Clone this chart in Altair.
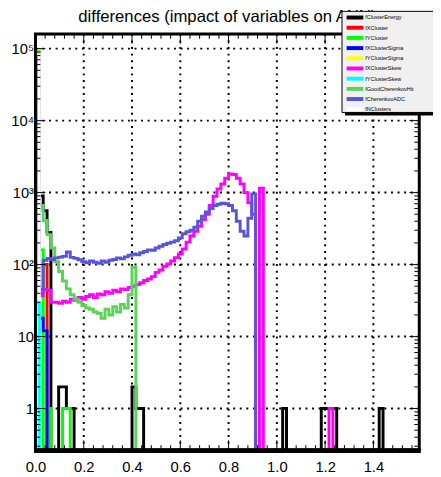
import altair as alt
import pandas as pd

# ---------------- axis / binning ----------------
BIN_WIDTH = 0.016
N_BINS = 100
X_DOMAIN = [0.0, 1.59]
Y_DOMAIN = [0.265, 1.6e5]
ZERO_FLOOR = 0.05          # empty bins are pushed below the axis (clipped)

TITLE = "differences (impact of variables on ANN)"

series_names = ["fClusterEnergy", "fXCluster", "fYCluster", "fXClusterSigma", "fYClusterSigma",
                "fXClusterSkew", "fYClusterSkew", "fGoodCherenkovHit", "fCherenkovADC", "fNClusters"]
series_colors = ["#000000", "#ff0000", "#00ff00", "#0000ff", "#ffff00",
                 "#ff00ff", "#00ffff", "#59d454", "#5954d9", "#ffffff"]
draw_order = ["fClusterEnergy", "fXCluster", "fYCluster", "fXClusterSigma", "fYClusterSigma",
              "fXClusterSkew", "fGoodCherenkovHit", "fCherenkovADC", "fNClusters", "fYClusterSkew"]

# ---------------- bin contents (bin 0 first) ----------------
cluster_energy = [86000, 900, 560, 280, 0, 0, 2, 2, 1, 1]
cluster_energy_spikes = {25: 2, 26: 1, 27: 1, 64: 1, 74: 1, 75: 1, 76: 1, 77: 1, 89: 1}
x_cluster = [88000, 40, 100]
y_cluster = [92000, 160, 0, 1, 0, 0, 0, 1, 1]
x_cluster_sigma = [88000, 18, 12]
y_cluster_sigma = [90000]
x_cluster_skew = [80000, 37, 45, 44, 30, 30, 29, 31, 30, 33,
                  32, 35, 33, 36, 38, 35, 39, 38, 42, 40,
                  44, 42, 46, 45, 48, 50, 53, 56, 60, 63,
                  68, 78, 84, 95, 102, 112, 125, 140, 165, 205,
                  250, 290, 340, 420, 500, 660, 890, 1120, 1320, 1580,
                  1820, 1780, 1580, 1320, 1000, 720, 500, 0, 1150]
x_cluster_skew_spikes = {76: 1}
y_cluster_skew = [29]
good_cherenkov_hit = [74000, 660, 410, 260, 170, 110, 80, 59, 46, 38,
                      33, 30, 27, 25, 24, 22, 21, 18, 24, 20,
                      26, 22, 28, 25, 38, 92]
cherenkov_adc = [84000, 45, 115, 122, 118, 124, 127, 130, 150, 126,
                 122, 117, 110, 106, 112, 108, 104, 112, 108, 115,
                 118, 124, 120, 128, 135, 140, 137, 146, 152, 160,
                 158, 170, 180, 190, 198, 205, 215, 235, 268, 285,
                 300, 330, 400, 470, 540, 600, 660, 690, 710, 700,
                 660, 560, 400, 290, 250, 440, 960]
n_clusters = [82000]

dense = {
    "fClusterEnergy": cluster_energy, "fXCluster": x_cluster, "fYCluster": y_cluster,
    "fXClusterSigma": x_cluster_sigma, "fYClusterSigma": y_cluster_sigma,
    "fXClusterSkew": x_cluster_skew, "fYClusterSkew": y_cluster_skew,
    "fGoodCherenkovHit": good_cherenkov_hit, "fCherenkovADC": cherenkov_adc,
    "fNClusters": n_clusters,
}
sparse = {"fClusterEnergy": cluster_energy_spikes, "fXClusterSkew": x_cluster_skew_spikes}

# ---------------- ticks ----------------
x_tick_values = [0.0, 0.2, 0.4, 0.6, 0.8, 1.0, 1.2, 1.4]
x_minor = [round(0.04 * i, 2) for i in range(41) if i % 5 != 0 and 0.04 * i <= X_DOMAIN[1]]
y_major = [1, 10, 100, 1000, 10000, 100000]
y_major_labels = ["1", "10", "10²", "10³", "10⁴", "10⁵"]
y_minor = [m * 10.0 ** e for e in range(-1, 6) for m in range(2, 10)
           if Y_DOMAIN[0] < m * 10.0 ** e < Y_DOMAIN[1]]

# ---------------- build step table ----------------
rows = []
for name in series_names:
    vals = [0] * N_BINS
    for k, v in enumerate(dense[name]):
        vals[k] = v
    for k, v in sparse.get(name, {}).items():
        vals[k] = v
    rows.append(dict(series=name, i=0, x=0.0, y=ZERO_FLOOR))
    for k, v in enumerate(vals):
        rows.append(dict(series=name, i=k + 1, x=round(k * BIN_WIDTH, 6),
                         y=v if v > 0 else ZERO_FLOOR))
    rows.append(dict(series=name, i=N_BINS + 1, x=round(N_BINS * BIN_WIDTH, 6), y=ZERO_FLOOR))
hist = pd.DataFrame(rows)

W, H = 391, 424
RIGHT_EDGE = W + 14          # right border of the picture, in plot coordinates
FONT = "Liberation Sans"

xs = alt.Scale(domain=X_DOMAIN, nice=False, zero=False)
ys = alt.Scale(type="log", domain=Y_DOMAIN, nice=False)

expr = f"'{y_major_labels[-1]}'"
for v, l in reversed(list(zip(y_major[:-1], y_major_labels[:-1]))):
    expr = f"datum.value < {v * 1.5} ? '{l}' : ({expr})"

x_axis = alt.Axis(values=x_tick_values, format=".1f", labelFlush=False, ticks=False, domain=False,
                  grid=False, labelFontSize=15, labelFont=FONT, labelColor="black",
                  labelPadding=10, title=None, labelOverlap=False)
y_axis = alt.Axis(values=y_major, labelExpr=expr, ticks=False, domain=False, grid=False,
                  labelFontSize=15, labelFont=FONT, labelColor="black", labelPadding=2,
                  title=None, labelOverlap=False)


def X():
    return alt.X("x:Q", scale=xs, axis=x_axis)


def Y():
    return alt.Y("y:Q", scale=ys, axis=y_axis)


color_scale = alt.Scale(domain=series_names, range=series_colors)

one = pd.DataFrame({"a": [0]})
layers = []

# grid
layers.append(alt.Chart(pd.DataFrame({"x": x_tick_values[1:]})).mark_rule(
    color="black", strokeWidth=2, strokeDash=[2, 4.7]).encode(x=X()))
layers.append(alt.Chart(pd.DataFrame({"y": y_major})).mark_rule(
    color="black", strokeWidth=2, strokeDash=[2, 4.7]).encode(y=Y()))

# histograms
for name in draw_order:
    layers.append(
        alt.Chart(hist).transform_filter(alt.datum.series == name)
        .mark_line(interpolate="step-after", strokeWidth=3, clip=True)
        .encode(x=X(), y=Y(),
                color=alt.Color("series:N", scale=color_scale, legend=None),
                order=alt.Order("i:Q"))
    )

# tick marks (inside the frame)
for vals, ln in ((x_tick_values, 10), (x_minor, 5)):
    d = pd.DataFrame({"x": vals})
    layers.append(alt.Chart(d).mark_rule(color="black", strokeWidth=1).encode(
        x=X(), y=alt.value(H), y2=alt.value(H - ln)))
    layers.append(alt.Chart(d).mark_rule(color="black", strokeWidth=1).encode(
        x=X(), y=alt.value(0), y2=alt.value(ln)))
for vals, ln in ((y_major, 10), (y_minor, 5)):
    d = pd.DataFrame({"y": vals})
    layers.append(alt.Chart(d).mark_rule(color="black", strokeWidth=1).encode(
        y=Y(), x=alt.value(0), x2=alt.value(ln)))
    layers.append(alt.Chart(d).mark_rule(color="black", strokeWidth=1).encode(
        y=Y(), x=alt.value(W), x2=alt.value(W - ln)))

# frame (bottom edge a little heavier, as in the reference)
layers.append(alt.Chart(one).mark_rect(fill="transparent", stroke="black", strokeWidth=3).encode(
    x=alt.value(0), x2=alt.value(W), y=alt.value(0), y2=alt.value(H)))
layers.append(alt.Chart(one).mark_rule(color="black", strokeWidth=5).encode(
    x=alt.value(-1.5), x2=alt.value(W + 1.5), y=alt.value(H + 0.5)))

# title (top partly outside the picture, as in the reference)
layers.append(alt.Chart(one).mark_text(text=TITLE, fontSize=17, font=FONT, color="black",
                                       align="center", baseline="alphabetic").encode(
    x=alt.value(W / 2), y=alt.value(-12.5)))

# legend box: bottom shadow, grey fill, thin border on the visible sides
LEG_X0, LEG_Y0, LEG_Y1 = 312.3, -23, 80
layers.append(alt.Chart(one).mark_rect(fill="black").encode(
    x=alt.value(LEG_X0 + 3), x2=alt.value(RIGHT_EDGE), y=alt.value(LEG_Y1 - 1), y2=alt.value(LEG_Y1 + 3)))
layers.append(alt.Chart(one).mark_rect(fill="#f0f0f0").encode(
    x=alt.value(LEG_X0), x2=alt.value(RIGHT_EDGE + 20), y=alt.value(LEG_Y0), y2=alt.value(LEG_Y1)))
layers.append(alt.Chart(one).mark_rule(color="black", strokeWidth=1).encode(
    x=alt.value(LEG_X0), y=alt.value(LEG_Y0), y2=alt.value(LEG_Y1)))
layers.append(alt.Chart(one).mark_rule(color="black", strokeWidth=1).encode(
    x=alt.value(LEG_X0), x2=alt.value(RIGHT_EDGE), y=alt.value(LEG_Y0)))
layers.append(alt.Chart(one).mark_rule(color="black", strokeWidth=1).encode(
    x=alt.value(LEG_X0), x2=alt.value(RIGHT_EDGE), y=alt.value(LEG_Y1)))

# legend entries
ENTRY_Y0, ENTRY_STEP = -16.7, 10.38
for idx, (name, col) in enumerate(zip(series_names, series_colors)):
    yy = ENTRY_Y0 + idx * ENTRY_STEP
    layers.append(alt.Chart(one).mark_rule(color=col, strokeWidth=4).encode(
        x=alt.value(LEG_X0 + 4.7), x2=alt.value(LEG_X0 + 21.7), y=alt.value(yy)))
    layers.append(alt.Chart(one).mark_text(text=name, fontSize=5.6, font=FONT, color="black",
                                           align="left", baseline="middle").encode(
        x=alt.value(LEG_X0 + 23.7), y=alt.value(yy)))

chart = alt.layer(*layers).properties(
    width=W, height=H,
    autosize=alt.AutoSizeParams(type="none"),
    padding={"left": 28, "top": 22, "right": 14, "bottom": 23},
    background="white",
).configure_view(strokeWidth=0)

chart.save("out.html", embed_options={"renderer": "svg", "actions": False})
